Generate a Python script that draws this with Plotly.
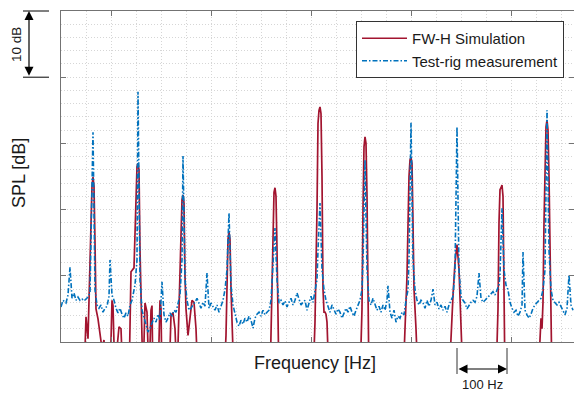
import plotly.graph_objects as go

# ---------------- data ----------------
# FW-H simulation (frequency in Hz, relative SPL in dB; values < 0 fall below the axis)
sim_freq = [100, 146, 150, 154, 158, 162, 164, 166, 168, 170, 174, 178, 182, 186, 190,
            198, 202, 204, 208, 212, 216, 220, 224,
            236, 240, 246, 250, 252, 254, 256, 258, 260, 264, 268, 272, 276, 280, 282, 284, 294, 298, 300, 302,
            316, 320, 324, 328, 332, 336, 340, 342, 344, 346, 348, 350, 354, 358, 362, 366, 370, 374,
            426, 430, 432, 434, 436, 438, 440, 442, 446,
            518, 521, 524, 526, 528, 530, 532, 534, 536,
            604, 608, 612, 614, 616, 618, 620, 622, 624, 626, 628, 630, 632, 636,
            698, 702, 704, 706, 708, 710, 712, 714, 716,
            784, 788, 792, 796, 798, 800, 802, 804, 806, 810, 814,
            876, 880, 884, 888, 892, 896, 900, 904,
            970, 974, 976, 978, 980, 982, 984, 986, 988,
            1054, 1058, 1060, 1062, 1064, 1066, 1068, 1070, 1072, 1074, 1076, 1078, 1080, 1082, 1126]
sim_spl = [-6, -6, 3.8, 0.5, 12, 23.5, 24.9, 23.5, 15, 5, 3.5, 1.5, -1, 0.3, -6,
           -6, 6.3, 5.5, -6, -1, 2.3, 2.0, -6,
           -6, 10.6, 11.2, 22, 26.5, 27.0, 26, 14, 5, -6, 5.9, 4.5, -6, 4.8, 5.5, -6, -6, 6.3, 5, -6,
           -6, 4.0, 4.4, 2, -6, 4, 14, 21.5, 22.2, 21, 10, 5, 1, 4, 6.3, 6.0, 2, -6,
           -6, 1, 8, 15.5, 16.6, 15.5, 8, 2, -6,
           -6, 5, 20, 22.6, 23.3, 22, 14, 3, -6,
           -6, 3, 20, 33, 35, 35.5, 34.5, 25, 8, 4.5, 4.5, 4.2, 3, -6,
           -6, 5, 20, 29.5, 31, 30, 22, 8, -6,
           -6, 2, 10, 25, 27.5, 27.9, 27, 18, 8, 2, -6,
           -6, 2, 7, 12, 14.7, 11, 4, -6,
           -6, 5, 18, 23, 23.3, 23.7, 22, 10, -6,
           -6, 1, 3.6, 2, 6, 18, 28, 32.5, 33.5, 32, 25, 14, 5, -6, -6]

# Test-rig measurement
meas_freq = [100, 104, 110, 114, 118, 122, 126, 130, 134, 138,
             142, 146, 150, 154, 158, 164, 168, 172, 176, 180,
             184, 188, 192, 196, 198, 202, 206, 210, 214, 218,
             222, 226, 230, 234, 238, 242, 248, 252, 254, 258,
             262, 266, 270, 274, 278, 282, 286, 290, 294, 298,
             302, 306, 310, 314, 318, 322, 326, 330, 334, 338,
             342, 344, 348, 352, 356, 360, 364, 368, 372, 376,
             380, 384, 388, 392, 396, 400, 404, 408, 412, 416,
             420, 424, 428, 432, 436, 440, 444, 448, 452, 456,
             460, 464, 468, 472, 476, 480, 484, 488, 492, 496,
             500, 504, 508, 512, 516, 520, 524, 528, 532, 536,
             540, 544, 548, 552, 556, 560, 564, 568, 572, 576,
             580, 584, 588, 592, 596, 600, 604, 608, 612, 614,
             618, 622, 626, 630, 634, 638, 642, 646, 650, 654,
             658, 662, 666, 670, 674, 678, 682, 686, 690, 694,
             698, 702, 704, 708, 712, 716, 720, 724, 728, 732,
             736, 740, 744, 748, 752, 754, 758, 762, 766, 770,
             774, 778, 782, 786, 790, 794, 796, 800, 804, 808,
             812, 816, 820, 824, 828, 832, 836, 840, 844, 848,
             852, 856, 860, 864, 868, 872, 876, 880, 884, 888,
             892, 896, 900, 904, 908, 912, 916, 920, 924, 928,
             932, 936, 940, 944, 948, 952, 956, 960, 964, 968,
             972, 976, 978, 982, 986, 990, 994, 998, 1002, 1006,
             1010, 1014, 1018, 1022, 1024, 1028, 1032, 1036, 1040, 1044,
             1048, 1052, 1056, 1060, 1064, 1068, 1072, 1076, 1080, 1084,
             1088, 1092, 1096, 1100, 1104, 1108, 1112, 1116, 1120, 1124]
meas_spl = [5.3, 6.3, 5.9, 7.1, 11.3, 6.6, 7.4, 6.3, 6.8, 6.3,
            6.5, 6.2, 6.5, 6.8, 7.4, 31.7, 7.9, 5.6, 5.1, 5.6,
            4.5, 5.1, 5.4, 6.9, 12.4, 7.1, 6.3, 5.1, 4.4, 5.1,
            4.2, 3.6, 4.4, 3.9, 5.6, 6.3, 8.6, 12.4, 37.8, 9.4,
            4.8, 3.6, 2.6, 1.5, 2.1, 3.0, 3.6, 3.0, 4.2, 3.3,
            9.1, 4.1, 3.0, 3.6, 4.4, 3.9, 4.8, 4.5, 5.6, 7.1,
            12.4, 28.1, 9.4, 6.3, 4.8, 5.1, 5.6, 6.0, 6.6, 5.7,
            5.1, 6.0, 5.4, 10.4, 5.1, 5.9, 5.4, 4.8, 5.6, 4.5,
            5.4, 6.3, 7.9, 10.9, 19.5, 8.6, 5.6, 4.1, 3.0, 2.4,
            3.3, 2.7, 3.6, 3.0, 3.9, 3.3, 2.1, 3.6, 4.2, 4.5,
            3.9, 4.8, 4.1, 4.5, 4.8, 6.3, 10.9, 17.2, 9.4, 5.9,
            6.3, 5.6, 6.2, 5.3, 6.0, 6.6, 5.6, 6.3, 7.4, 6.3,
            5.6, 6.0, 6.3, 4.8, 6.0, 6.9, 6.0, 7.9, 9.4, 13.9,
            21.0, 10.9, 7.9, 6.3, 5.4, 4.5, 5.6, 4.8, 4.2, 5.0,
            4.5, 3.6, 4.4, 5.1, 4.5, 5.4, 4.5, 3.9, 4.8, 5.6,
            6.3, 7.9, 12.4, 27.5, 10.9, 6.3, 5.6, 6.6, 5.6, 4.8,
            5.4, 4.5, 5.6, 4.8, 6.3, 8.5, 4.5, 3.6, 4.8, 3.0,
            3.9, 3.6, 4.5, 4.1, 6.3, 7.9, 12.4, 33.1, 12.4, 7.9,
            6.3, 5.6, 6.3, 5.9, 5.1, 6.3, 5.4, 6.3, 8.0, 5.6,
            6.0, 5.0, 5.6, 4.8, 5.4, 4.5, 5.6, 6.3, 6.9, 10.9,
            32.5, 10.9, 6.9, 6.3, 5.9, 5.0, 5.6, 6.0, 6.3, 6.0,
            6.9, 10.4, 6.6, 6.0, 6.3, 6.6, 6.9, 7.3, 7.6, 7.1,
            7.9, 8.6, 10.1, 20.2, 10.9, 8.6, 7.9, 6.0, 5.1, 4.5,
            4.8, 3.9, 4.5, 5.6, 13.6, 4.8, 4.1, 3.6, 4.2, 5.1,
            5.6, 6.0, 6.3, 6.6, 7.9, 10.9, 35.0, 13.9, 7.9, 6.3,
            5.9, 5.6, 6.0, 5.4, 4.8, 4.1, 5.1, 10.1, 5.6, 4.8]

series_names = ["FW-H Simulation", "Test-rig measurement"]
x_range = [100, 1126]
y_range = [0, 50]
scale_db = [40, 50]        # the "10 dB" scale bar
scale_hz = [892, 992]      # the "100 Hz" scale bar

FONT = "Liberation Sans, Arial, sans-serif"
RED = "#A2142F"
BLUE = "#0072BD"
GRID = "#d6d6d6"
AXC = "#737373"
TXT = "#1a1a1a"

fig = go.Figure()
fig.add_trace(go.Scatter(x=sim_freq, y=sim_spl, mode="lines", name=series_names[0],
                         line=dict(color=RED, width=1.7)))
fig.add_trace(go.Scatter(x=meas_freq, y=meas_spl, mode="lines", name=series_names[1],
                         line=dict(color=BLUE, width=1.6, dash="5px,2px,1.5px,2px")))

fig.update_layout(
    width=574, height=393,
    margin=dict(l=61, r=0, t=11, b=51),
    paper_bgcolor="white", plot_bgcolor="white",
    font=dict(family=FONT, color=TXT),
    showlegend=True,
    legend=dict(x=(356 - 61) / 513, y=(342 - 21) / 331, xanchor="left", yanchor="top",
                bgcolor="white", bordercolor="#333333", borderwidth=1,
                font=dict(size=15, family=FONT, color=TXT),
                itemwidth=45, tracegroupgap=0),
)

fig.update_xaxes(range=x_range, showticklabels=False, ticks="inside", ticklen=5,
                 tickcolor=AXC, tick0=0, dtick=200,
                 showline=True, linecolor=AXC, linewidth=1, mirror="ticks",
                 showgrid=True, gridcolor=GRID, griddash="1px,2px", gridwidth=1, zeroline=False,
                 minor=dict(dtick=50, tick0=0, showgrid=True, gridcolor=GRID, griddash="1px,2px",
                            ticklen=0))
fig.update_yaxes(range=y_range, showticklabels=False, ticks="inside", ticklen=5,
                 tickcolor=AXC, tick0=0, dtick=10,
                 showline=True, linecolor=AXC, linewidth=1, mirror="ticks",
                 showgrid=True, gridcolor=GRID, griddash="1px,2px", gridwidth=1, zeroline=False,
                 minor=dict(dtick=2, tick0=0, showgrid=True, gridcolor=GRID, griddash="1px,2px",
                            ticklen=0))

# axis titles
fig.add_annotation(text="Frequency [Hz]", xref="paper", yref="paper",
                   x=(315 - 61) / 513, y=(342 - 363) / 331, showarrow=False,
                   xanchor="center", yanchor="middle",
                   font=dict(size=18, family=FONT, color=TXT))
fig.add_annotation(text="SPL [dB]", xref="paper", yref="paper", textangle=-90,
                   x=(19 - 61) / 513, y=(342 - 173) / 331, showarrow=False,
                   xanchor="center", yanchor="middle",
                   font=dict(size=18, family=FONT, color=TXT))

# 10 dB scale bar
ypap = [(v - y_range[0]) / (y_range[1] - y_range[0]) for v in scale_db]
for yv in ypap:
    fig.add_shape(type="line", xref="paper", yref="paper",
                  x0=(23 - 61) / 513, x1=(49 - 61) / 513, y0=yv, y1=yv,
                  line=dict(color="black", width=1))
fig.add_annotation(text="", xref="paper", yref="paper", x=(29 - 61) / 513, y=ypap[1],
                   ax=0, ay=(ypap[1] - ypap[0]) * 331, axref="pixel", ayref="pixel",
                   showarrow=True, arrowhead=2, arrowside="end+start", arrowsize=1.5,
                   arrowwidth=1.2, arrowcolor="black", standoff=0, startstandoff=0)
fig.add_annotation(text="10 dB", xref="paper", yref="paper", textangle=-90,
                   x=(16 - 61) / 513, y=(342 - 45) / 331, showarrow=False,
                   xanchor="center", yanchor="middle",
                   font=dict(size=13.5, family=FONT, color=TXT))

# 100 Hz scale bar
for xv in scale_hz:
    fig.add_shape(type="line", xref="x", yref="paper", x0=xv, x1=xv,
                  y0=(342 - 348) / 331, y1=(342 - 374) / 331,
                  line=dict(color="#333333", width=1))
fig.add_annotation(text="", xref="x", yref="paper", x=scale_hz[1], y=(342 - 369) / 331,
                   ax=scale_hz[0], ay=0, axref="x", ayref="pixel",
                   showarrow=True, arrowhead=2, arrowside="end+start", arrowsize=1.5,
                   arrowwidth=1.2, arrowcolor="black", standoff=0, startstandoff=0)
fig.add_annotation(text="100 Hz", xref="x", yref="paper",
                   x=(scale_hz[0] + scale_hz[1]) / 2, y=(342 - 384) / 331, showarrow=False,
                   xanchor="center", yanchor="middle",
                   font=dict(size=13, family=FONT, color=TXT))

fig.write_html("out.html")
